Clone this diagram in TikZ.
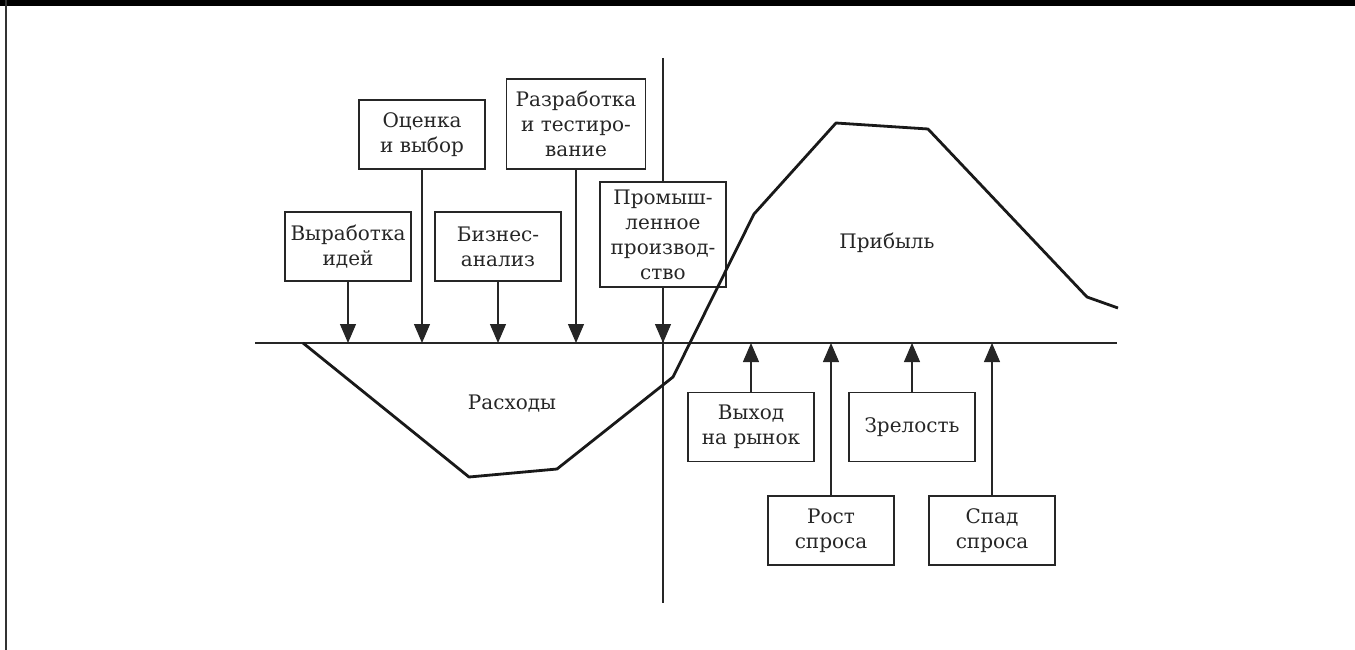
\documentclass[tikz,border=0pt]{standalone}
\usepackage{fontspec}
\setmainfont{DejaVu Serif}
\usetikzlibrary{arrows.meta}
\begin{document}
\begin{tikzpicture}[x=1pt,y=-1pt,
  thin line/.style={line width=1.2pt,black!85},
  stagebox/.style={draw,thin line,align=center,inner sep=0pt,
    minimum width=126pt,minimum height=69pt,
    font=\fontsize{20}{25}\selectfont,text=black!85},
  plain label/.style={font=\fontsize{20}{25}\selectfont,text=black!85},
  arr/.style={thin line,-{Triangle[length=19pt,width=16pt]}},
  curve/.style={line width=2.8pt,black!90,line join=round}]
  % canvas and frame
  \useasboundingbox (0,0) rectangle (1355,650);
  \fill[black] (0,0) rectangle (1355,6.5);
  \draw[line width=2pt,black!80] (6,0) -- (6,650);

  % axes
  \coordinate (axL) at (255,343);
  \coordinate (axR) at (1117,343);
  \coordinate (vtop) at (663,58);
  \coordinate (vbot) at (663,603);
  \draw[thin line] (axL) -- (axR);

  % development stages (above the axis)
  \node[stagebox] (idea) at (348,246.5) {Выработка\\идей};
  \node[stagebox] (eval) at (422,134.5) {Оценка\\и выбор};
  \node[stagebox] (biz)  at (498,246.5) {Бизнес-\\анализ};
  \node[stagebox,minimum width=139pt,minimum height=90pt] (dev) at (576,124)
    {Разработка\\и тестиро-\\вание};
  \node[stagebox,minimum height=105pt] (prod) at (663,234.5)
    {Промыш-\\ленное\\производ-\\ство};

  % market stages (below the axis)
  \node[stagebox] (mkt)  at (751,427) {Выход\\на рынок};
  \node[stagebox] (mat)  at (912,427) {Зрелость};
  \node[stagebox] (grow) at (831,530.5) {Рост\\спроса};
  \node[stagebox] (decl) at (992,530.5) {Спад\\спроса};

  % vertical divider through the production box
  \draw[thin line] (vtop) -- (prod.north);
  \draw[thin line] (prod.south) -- (vbot);

  % arrows down to the axis
  \foreach \n in {idea,eval,biz,dev,prod}
    \draw[arr] (\n.south) -- (\n.south |- axL);
  % arrows up to the axis
  \foreach \n in {mkt,mat,grow,decl}
    \draw[arr] (\n.north) -- (\n.north |- axL);

  % cost / profit curve
  \draw[curve] (303,343) -- (469,477) -- (557,469) -- (673,377) -- (754,214)
    -- (836,123) -- (928,129) -- (1087,297) -- (1118,308);

  \node[plain label] (cost)   at (512,404) {Расходы};
  \node[plain label] (profit) at (887,243) {Прибыль};
\end{tikzpicture}
\end{document}
